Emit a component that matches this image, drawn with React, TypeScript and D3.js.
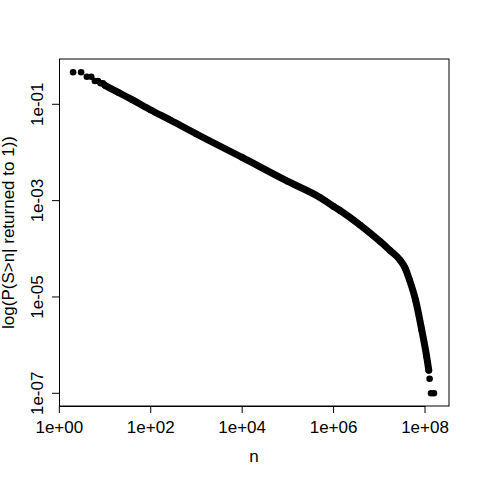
import React from 'react';
import * as d3 from 'd3';

// values (P(S>n | returned to 1), log-log)
const nValues = [
  2, 3, 4, 5, 6, 7, 8, 9, 10, 20, 40, 100, 267, 1000, 1e4, 1e5, 5.05e5, 1e6,
  1.38e6, 3.79e6, 1.04e7, 1.72e7, 2.84e7, 3.66e7, 4.59e7, 6.2e7, 8.48e7,
  1.09e8, 1.21e8, 1.26e8, 1.355e8, 1.57e8,
];
const pValues = [
  0.462, 0.462, 0.374, 0.374, 0.305, 0.305, 0.273, 0.273, 0.246, 0.174, 0.123,
  0.0762, 0.0472, 0.0242, 0.00787, 0.0025, 0.00116, 7.55e-4, 6.24e-4, 3.12e-4,
  1.42e-4, 9.23e-5, 5.86e-5, 4.0e-5, 2.25e-5, 8.67e-6, 2.07e-6, 5.75e-7, 3e-7,
  2e-7, 1e-7, 1e-7,
];
// the stretch where the points are so dense they run together
const denseFrom = 10;
const denseTo = 1.21e8;

const xTicks = [1, 1e2, 1e4, 1e6, 1e8];
const xTickLabels = ['1e+00', '1e+02', '1e+04', '1e+06', '1e+08'];
const yTicks = [1e-1, 1e-3, 1e-5, 1e-7];
const yTickLabels = ['1e-01', '1e-03', '1e-05', '1e-07'];

const App: React.FC = () => {
  const width = 480;
  const height = 480;
  const margin = { top: 59, right: 31, bottom: 74, left: 59 };
  const font = "'Liberation Sans', Arial, Helvetica, sans-serif";

  const xScale = d3.scaleLog()
    .domain([10 ** -0.007, 10 ** 8.525])
    .range([margin.left, width - margin.right]);

  const yScale = d3.scaleLog()
    .domain([10 ** -0.0597, 10 ** -7.2636])
    .range([margin.top, height - margin.bottom]);

  const pts = nValues.map((n, i) => ({ n, p: pValues[i] }));
  const dense = pts.filter(d => d.n >= denseFrom && d.n <= denseTo);

  const line = d3.line<{ n: number; p: number }>()
    .x(d => xScale(d.n))
    .y(d => yScale(d.p))
    .curve(d3.curveMonotoneX);

  const x0 = margin.left;
  const x1 = width - margin.right;
  const y0 = margin.top;
  const y1 = height - margin.bottom;

  return (
    <svg
      width={width}
      height={height}
      style={{ position: 'absolute', left: 0, top: 0, background: '#fff' }}
    >
      <rect x={0} y={0} width={width} height={height} fill="#fff" />

      {/* points */}
      <path
        d={line(dense) || ''}
        fill="none"
        stroke="#000"
        strokeWidth={7}
        strokeLinecap="round"
        strokeLinejoin="round"
      />
      {pts.map((d, i) => (
        <circle key={i} cx={xScale(d.n)} cy={yScale(d.p)} r={3.3} fill="#000" />
      ))}

      {/* box */}
      <rect x={x0 + 0.5} y={y0} width={x1 - x0 - 0.5} height={y1 - y0} fill="none" stroke="#000" strokeWidth={1} />

      {/* x axis */}
      <line x1={xScale(xTicks[0])} x2={xScale(xTicks[xTicks.length - 1])} y1={y1 + 0.5} y2={y1 + 0.5} stroke="#000" />
      {xTicks.map((t, i) => (
        <g key={t} transform={`translate(${xScale(t)},0)`}>
          <line y1={y1} y2={y1 + 7} stroke="#000" />
          <text y={432.7} textAnchor="middle" fontFamily={font} fontSize={17} fill="#000">
            {xTickLabels[i]}
          </text>
        </g>
      ))}
      <text x={(x0 + x1) / 2} y={461.7} textAnchor="middle" fontFamily={font} fontSize={17} fill="#000">
        n
      </text>

      {/* y axis */}
      <line x1={x0 + 0.5} x2={x0 + 0.5} y1={yScale(yTicks[0])} y2={yScale(yTicks[yTicks.length - 1])} stroke="#000" />
      {yTicks.map((t, i) => (
        <g key={t} transform={`translate(0,${yScale(t)})`}>
          <line x1={x0 - 7} x2={x0} stroke="#000" />
          <text transform="translate(43,0) rotate(-90)" textAnchor="middle" fontFamily={font} fontSize={17} fill="#000">
            {yTickLabels[i]}
          </text>
        </g>
      ))}
      <text
        transform={`translate(14,${(y0 + y1) / 2}) rotate(-90)`}
        textAnchor="middle"
        fontFamily={font}
        fontSize={17}
        fill="#000"
      >
        log(P(S&gt;n| returned to 1))
      </text>
    </svg>
  );
};

export default App;
